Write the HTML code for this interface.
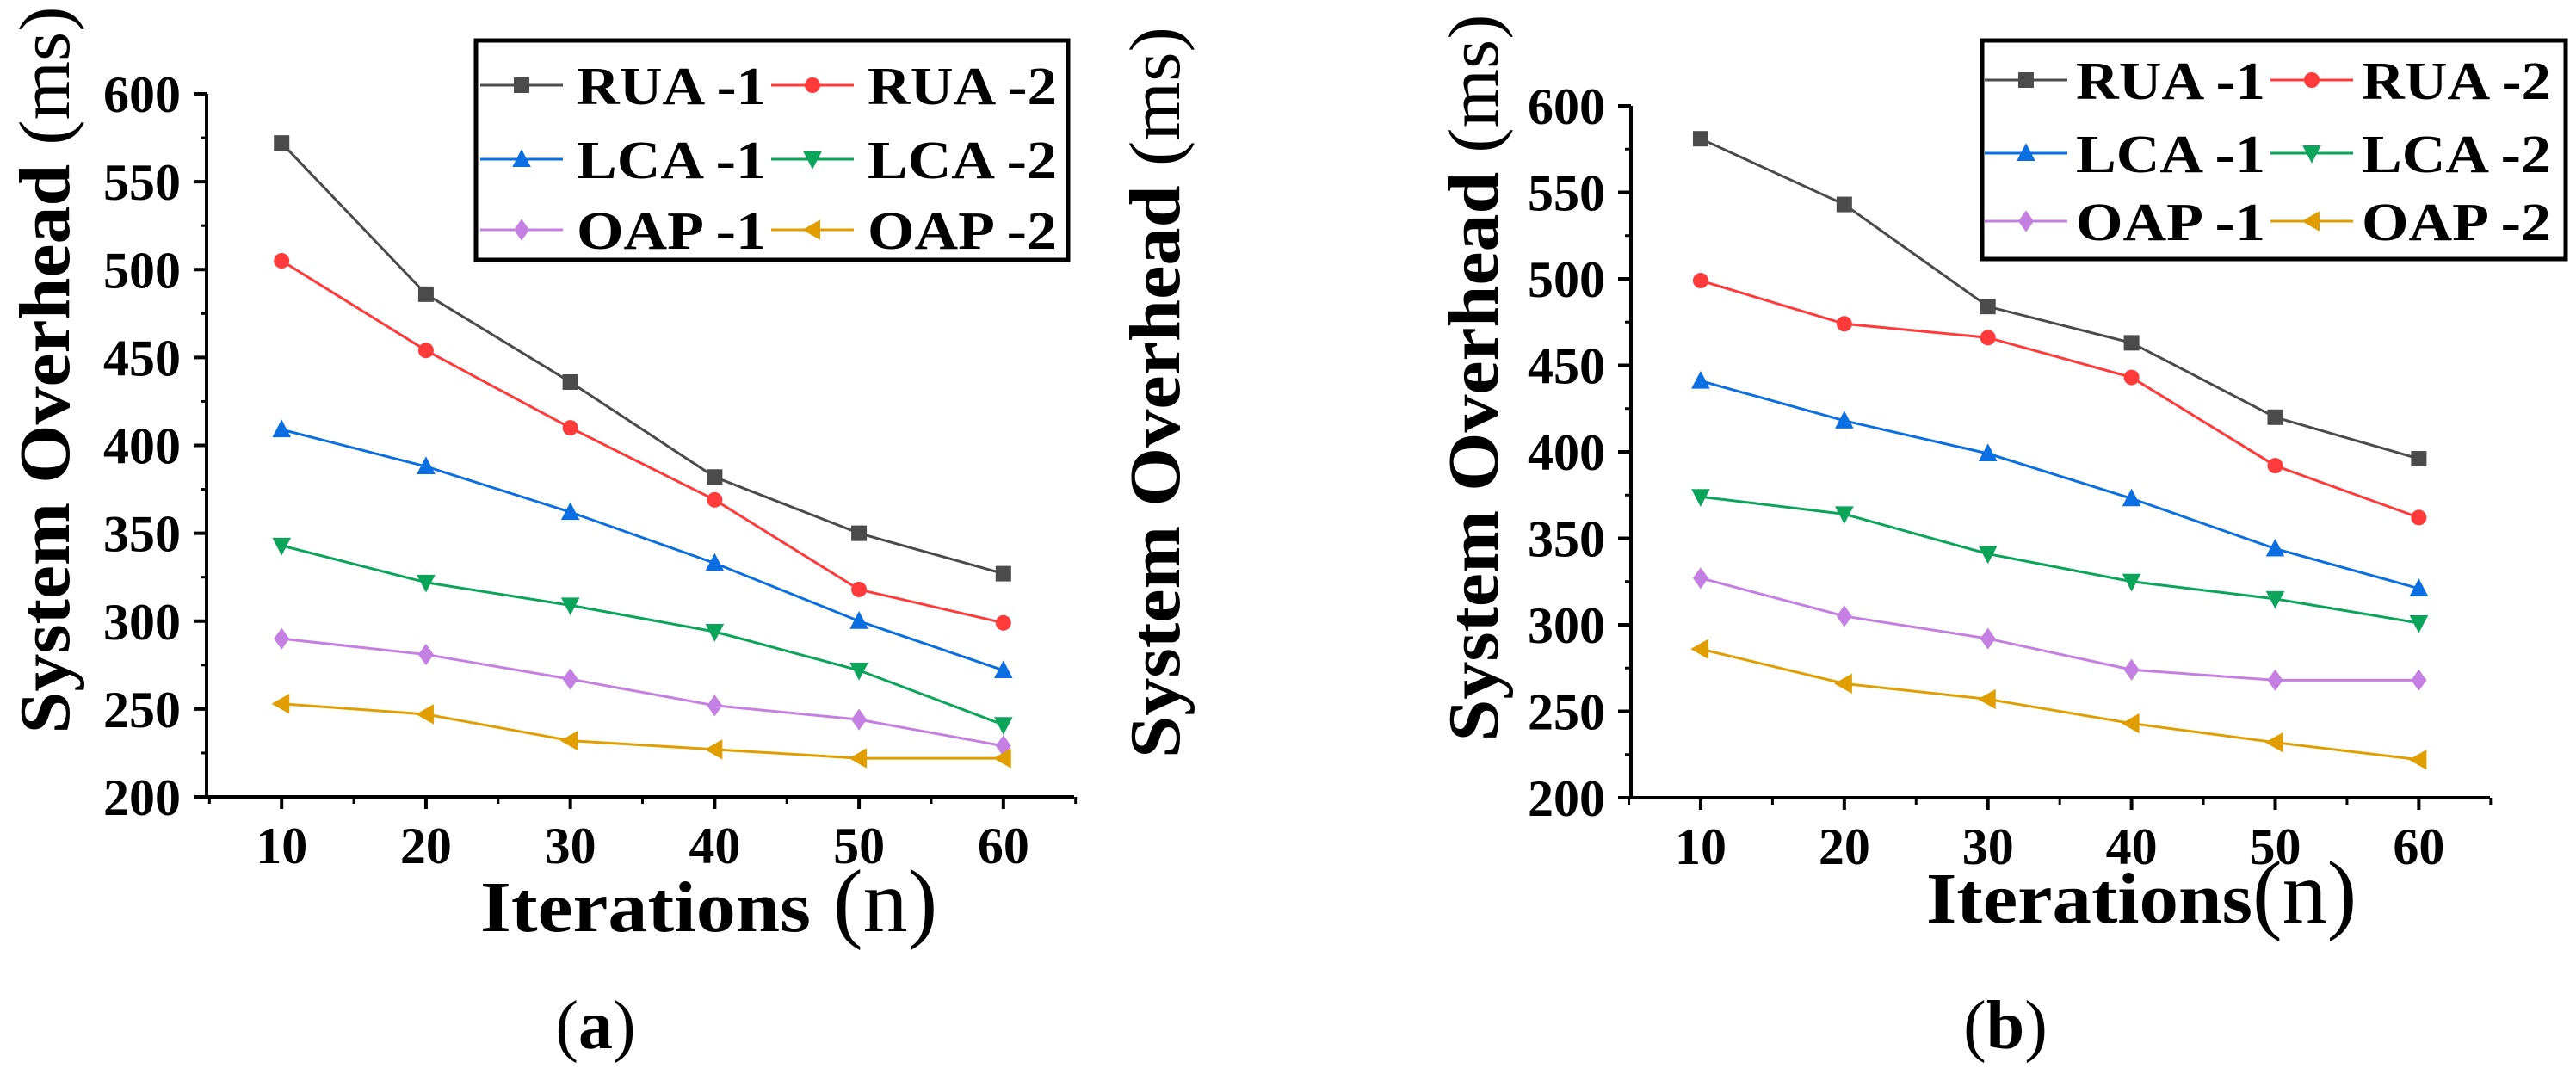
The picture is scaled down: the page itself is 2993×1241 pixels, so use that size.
<!DOCTYPE html>
<html><head><meta charset="utf-8"><style>
html,body{margin:0;padding:0;background:#fff;}
svg{display:block;}
text,tspan{font-family:"Liberation Serif","DejaVu Serif","Times New Roman",serif;}
</style></head><body>
<svg id="fig" width="2993" height="1241" viewBox="0 0 2993 1241" xmlns="http://www.w3.org/2000/svg">
<rect x="0" y="0" width="2993" height="1241" fill="#fff"/>
<g id="chartA"></g>
<g id="chartB"></g>
<text transform="translate(1370,456) rotate(-90)" text-anchor="middle" font-size="84" font-weight="bold" textLength="850" lengthAdjust="spacingAndGlyphs">System Overhead <tspan font-weight="normal">(ms)</tspan></text>
</svg>
<script>
const iterations = [10, 20, 30, 40, 50, 60];
const seriesNames = ["RUA -1","RUA -2","LCA -1","LCA -2","OAP -1","OAP -2"];
const yTicks = [200, 250, 300, 350, 400, 450, 500, 550, 600];
const xTicks = [10, 20, 30, 40, 50, 60];
const aRUA1 = [572, 486, 436, 382, 350, 327];
const aRUA2 = [505, 454, 410, 369, 318, 299];
const aLCA1 = [409, 388, 362, 333, 300, 272];
const aLCA2 = [343, 322, 309, 294, 272, 241];
const aOAP1 = [290, 281, 267, 252, 244, 229];
const aOAP2 = [253, 247, 232, 227, 222, 222];
const bRUA1 = [581, 543, 484, 463, 420, 396];
const bRUA2 = [499, 474, 466, 443, 392, 362];
const bLCA1 = [441, 418, 399, 373, 344, 321];
const bLCA2 = [374, 364, 341, 325, 315, 301];
const bOAP1 = [327, 305, 292, 274, 268, 268];
const bOAP2 = [286, 266, 257, 243, 232, 222];

const colors = ["#4b4b4b","#ff3a3a","#0b6fe2","#0aa45a","#c47fe2","#e09e00"];
const markers = ["square","circle","up","down","diamond","left"];
const NS = "http://www.w3.org/2000/svg";
function mk(parent, tag, attrs){const e=document.createElementNS(NS,tag);for(const k in attrs)e.setAttribute(k,attrs[k]);parent.appendChild(e);return e;}
function marker(g, type, cx, cy, color, s){
  let e;
  if(type==="square") e=mk(g,"rect",{x:cx-s,y:cy-s,width:2*s,height:2*s,fill:color});
  else if(type==="circle") e=mk(g,"circle",{cx:cx,cy:cy,r:s,fill:color});
  else if(type==="up") e=mk(g,"polygon",{points:`${cx},${cy-s*1.3} ${cx+s*1.2},${cy+s} ${cx-s*1.2},${cy+s}`,fill:color});
  else if(type==="down") e=mk(g,"polygon",{points:`${cx},${cy+s*1.3} ${cx+s*1.2},${cy-s} ${cx-s*1.2},${cy-s}`,fill:color});
  else if(type==="diamond") e=mk(g,"polygon",{points:`${cx},${cy-s*1.4} ${cx+s},${cy} ${cx},${cy+s*1.4} ${cx-s},${cy}`,fill:color});
  else e=mk(g,"polygon",{points:`${cx-s*1.3},${cy} ${cx+s},${cy-s*1.3} ${cx+s},${cy+s*1.3}`,fill:color});
  return e;
}
function drawChart(g, cfg, data){
  const xS=v=>cfg.x0+(v-cfg.xmin)*(cfg.x1-cfg.x0)/(cfg.xmax-cfg.xmin);
  const yS=v=>cfg.yb+(v-200)*(cfg.yt-cfg.yb)/400;
  const ax=mk(g,"path",{d:`M${cfg.x0},${yS(600)} L${cfg.x0},${cfg.yb} L${cfg.x1},${cfg.yb}`,fill:"none",stroke:"#000","stroke-width":4});
  
  
  for(let v=225; v<600; v+=50){mk(g,"line",{x1:cfg.x0-7,x2:cfg.x0,y1:yS(v),y2:yS(v),stroke:"#000","stroke-width":3});}
  yTicks.forEach(v=>{
    mk(g,"line",{x1:cfg.x0-15,x2:cfg.x0,y1:yS(v),y2:yS(v),stroke:"#000","stroke-width":4});
    const t=mk(g,"text",{x:cfg.x0-30,y:yS(v)+21,"text-anchor":"end","font-size":60,"font-weight":"bold"});
    t.textContent=v;
    
    
  });
  for(let v=5; v<=65; v+=10){mk(g,"line",{x1:xS(v),x2:xS(v),y1:cfg.yb,y2:cfg.yb+8,stroke:"#000","stroke-width":3});}
  xTicks.forEach(v=>{
    mk(g,"line",{x1:xS(v),x2:xS(v),y1:cfg.yb,y2:cfg.yb+14,stroke:"#000","stroke-width":4});
    const t=mk(g,"text",{x:xS(v),y:cfg.yb+77,"text-anchor":"middle","font-size":60,"font-weight":"bold"});
    t.textContent=v;
    
    
  });
  data.forEach((vals,i)=>{
    const sg=mk(g,"g",{});
    
    
    const pts=vals.map((v,j)=>xS(iterations[j])+","+yS(v)).join(" ");
    mk(sg,"polyline",{points:pts,fill:"none",stroke:colors[i],"stroke-width":3});
    vals.forEach((v,j)=>{
      const m=marker(sg,markers[i],xS(iterations[j]),yS(v),colors[i],9);
      
      
    });
  });
  const lg=mk(g,"g",{});
  
  
  mk(lg,"rect",{x:cfg.lx0,y:cfg.ly0,width:cfg.lx1-cfg.lx0,height:cfg.ly1-cfg.ly0,fill:"#fff",stroke:"#000","stroke-width":5});
  seriesNames.forEach((n,i)=>{
    const col=i%2,row=Math.floor(i/2);
    const ly=cfg.rows[row];
    const lx=cfg.cols[col];
    const e=mk(lg,"g",{});
    
    
    mk(e,"line",{x1:lx-48,x2:lx+48,y1:ly,y2:ly,stroke:colors[i],"stroke-width":3});
    marker(e,markers[i],lx,ly,colors[i],9);
    const t=mk(e,"text",{x:lx+cfg.tOff,y:ly+22,"font-size":62,"font-weight":"bold",textLength:cfg.tLen,lengthAdjust:"spacingAndGlyphs"});
    t.textContent=n;
  });
  const xt=mk(g,"text",{x:cfg.xtx,y:cfg.xty,"font-size":84,"font-weight":"bold",textLength:cfg.itLen,lengthAdjust:"spacingAndGlyphs"});
  
  
  xt.textContent="Iterations";
  const xn=mk(g,"text",{x:cfg.nx,y:cfg.xty,"font-size":104});
  
  
  xn.textContent="(n)";
  const yt=mk(g,"text",{transform:`translate(${cfg.ytx},${cfg.yty}) rotate(-90)`,"text-anchor":"middle","font-size":84,"font-weight":"bold",textLength:845,lengthAdjust:"spacingAndGlyphs"});
  
  
  yt.innerHTML='System Overhead <tspan font-weight="normal">(ms)</tspan>';
  const cap=mk(g,"text",{x:cfg.capx,y:1218,"text-anchor":"middle","font-size":80});
  
  
  cap.innerHTML=`(<tspan font-weight="bold">${cfg.cap}</tspan>)`;
}
drawChart(document.getElementById("chartA"),{x0:240,x1:1248,xmin:4.8,xmax:64.9,yb:926,yt:109,
  lx0:553,lx1:1241,ly0:47,ly1:302,rows:[99,185,267],cols:[606,944],tOff:64,tLen:220,
  xtx:558,xty:1082,itLen:384,nx:968,ytx:80,yty:430,capx:692,cap:"a"},[aRUA1,aRUA2,aLCA1,aLCA2,aOAP1,aOAP2]);
drawChart(document.getElementById("chartB"),{x0:1895,x1:2893,xmin:5.15,xmax:64.95,yb:927,yt:123,
  lx0:2303,lx1:2981,ly0:47,ly1:301,rows:[93,178,257],cols:[2354,2686],tOff:58,tLen:220,
  xtx:2238,xty:1072,itLen:379,nx:2617,ytx:1740,yty:439,capx:2330,cap:"b"},[bRUA1,bRUA2,bLCA1,bLCA2,bOAP1,bOAP2]);
</script>
</body></html>
